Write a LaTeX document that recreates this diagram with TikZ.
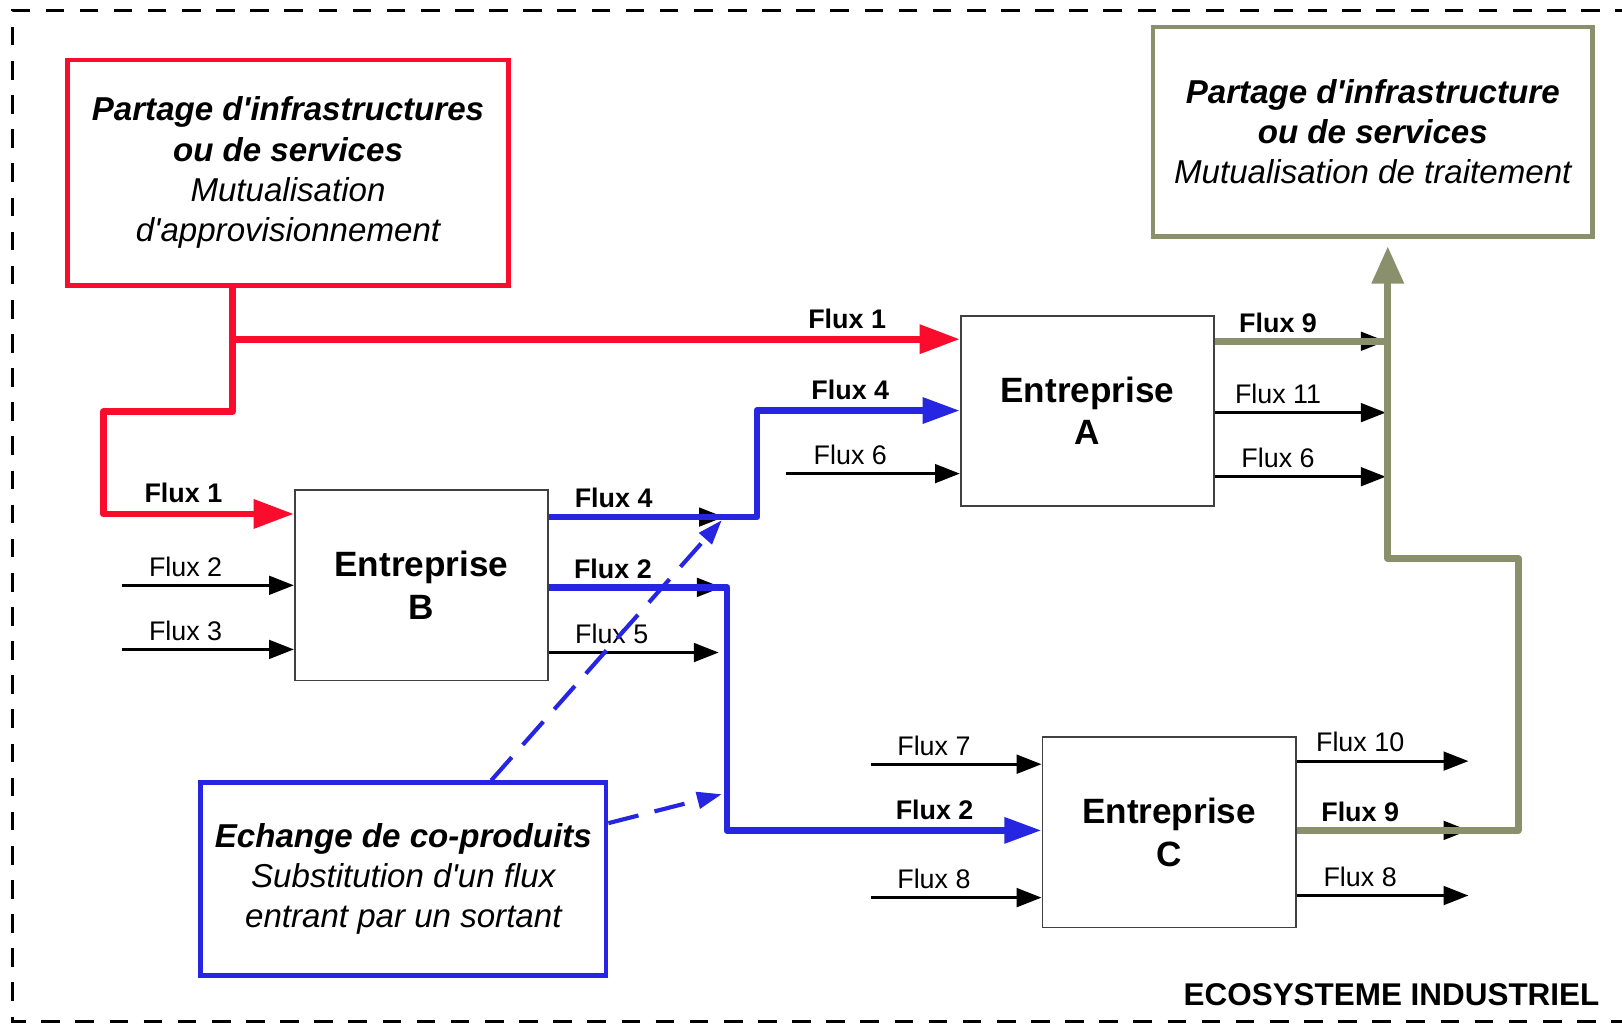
\documentclass[tikz,border=0pt]{standalone}
\usepackage{fontspec}
\setmainfont{Liberation Sans}[Ligatures=TeXOff]
\usepackage{tikz}
\usetikzlibrary{arrows.meta}
\definecolor{flowred}{RGB}{250,12,44}
\definecolor{flowblue}{RGB}{38,38,226}
\definecolor{flowgreen}{RGB}{138,144,108}
\tikzset{x=0.5pt, y=-0.5pt,
    ecoframe/.style={line width=1.5pt, dash pattern=on 9pt off 7.5pt},
    firm/.style={draw=black!75, line width=0.8pt, minimum width=122.5pt, minimum height=92pt,
        inner sep=0pt, align=center, font=\fontsize{17}{20.5}\selectfont\bfseries},
    theme/.style={draw=#1, line width=2.3pt, inner sep=0pt, align=center,
        font=\fontsize{16}{19.5}\selectfont\itshape},
    flux/.style={line width=1.4pt, -{Triangle[length=12pt,width=9pt]}},
    lbl/.style={above=3.6pt, inner sep=0pt, pos=.37, font=\fontsize{13}{15}\selectfont},
    boldlbl/.style={lbl, font=\fontsize{13}{15}\selectfont\bfseries},
    redflow/.style={draw=flowred, line width=3.3pt, line join=round, -{Triangle[length=19.5pt,width=13.5pt]}},
    blueflow/.style={draw=flowblue, line width=3.3pt, line join=round, -{Triangle[length=18pt,width=12pt]}},
    greenflow/.style={draw=flowgreen, line width=3.3pt, line join=round, -{Triangle[length=18pt,width=15pt]}},
    coupling/.style={draw=flowblue, line width=2pt, dash pattern=on 15pt off 8pt,
        -{Triangle[length=12pt,width=8pt]}}}

\begin{document}
\begin{tikzpicture}
    \useasboundingbox (0,0) rectangle (1568.5,990);
    \draw[ecoframe] (1580,10) -- (12,10) -- (12,988) -- (1580,988);

    \node[firm] (B) at (407.5,566) {Entreprise\\B};
    \node[firm] (A) at (1051.5,397.5) {Entreprise\\A};
    \node[firm] (C) at (1130.5,805) {Entreprise\\C};

    \node[theme=flowred, minimum width=213.5pt, minimum height=109pt] (appro) at (278.5,167)
        {\textbf{Partage d'infrastructures}\\\textbf{ou de services}\\Mutualisation\\d'approvisionnement};
    \node[theme=flowgreen, minimum width=212.5pt, minimum height=101.5pt] (traitement) at (1327.5,127.5)
        {\textbf{Partage d'infrastructure}\\\textbf{ou de services}\\Mutualisation de traitement};
    \node[theme=flowblue, minimum width=196pt, minimum height=93pt] (echange) at (390,850)
        {\textbf{Echange de co-produits}\\Substitution d'un flux\\entrant par un sortant};
    \node[anchor=east, inner sep=0pt, font=\fontsize{15.2}{18}\selectfont\bfseries] (eco) at (1547,962)
        {ECOSYSTEME INDUSTRIEL};

    \coordinate (in2B) at (118,566);
    \coordinate (in3B) at (118,628);
    \coordinate (out4B) at (700,500);
    \coordinate (out2B) at (698,568);
    \coordinate (out5B) at (695,631);
    \coordinate (in6A) at (760,458);
    \coordinate (out9A) at (1340,330);
    \coordinate (out11A) at (1340,399);
    \coordinate (out6A) at (1340,461);
    \coordinate (in7C) at (842,739);
    \coordinate (in8C) at (842,868);
    \coordinate (out10C) at (1420,736);
    \coordinate (out9C) at (1420,803);
    \coordinate (out8C) at (1420,866);

    \draw[flux] (in2B) -- node[lbl]{Flux 2} (in2B -| B.west);
    \draw[flux] (in3B) -- node[lbl]{Flux 3} (in3B -| B.west);
    \draw[flux] (B.east |- out4B) -- node[boldlbl]{Flux 4} (out4B);
    \draw[flux] (B.east |- out2B) -- node[boldlbl]{Flux 2} (out2B);
    \draw[flux] (B.east |- out5B) -- node[lbl]{Flux 5} (out5B);
    \draw[flux] (in6A) -- node[lbl]{Flux 6} (in6A -| A.west);
    \draw[flux] (A.east |- out9A) -- node[boldlbl]{Flux 9} (out9A);
    \draw[flux] (A.east |- out11A) -- node[lbl]{Flux 11} (out11A);
    \draw[flux] (A.east |- out6A) -- node[lbl]{Flux 6} (out6A);
    \draw[flux] (in7C) -- node[lbl]{Flux 7} (in7C -| C.west);
    \draw[flux] (in8C) -- node[lbl]{Flux 8} (in8C -| C.west);
    \draw[flux] (C.east |- out10C) -- node[lbl]{Flux 10} (out10C);
    \draw[flux] (C.east |- out9C) -- node[boldlbl]{Flux 9} (out9C);
    \draw[flux] (C.east |- out8C) -- node[lbl]{Flux 8} (out8C);

    \coordinate (r1) at (225,328);
    \coordinate (r2) at (225,398);
    \coordinate (r3) at (100,398);
    \coordinate (r4) at (100,497);
    \draw[redflow] (appro.south -| r1) -- (r1) -- node[boldlbl, pos=.845]{Flux 1} (r1 -| A.west);
    \draw[redflow] (r1) -- (r2) -- (r3) -- (r4) -- node[boldlbl, pos=.42]{Flux 1} (r4 -| B.west);

    \coordinate (b1) at (732,500);
    \coordinate (b2) at (732,397);
    \coordinate (b3) at (703,568);
    \coordinate (b4) at (703,803);
    \draw[blueflow] (B.east |- b1) -- (b1) -- (b2) -- node[boldlbl, pos=.46]{Flux 4} (b2 -| A.west);
    \draw[blueflow] (B.east |- b3) -- (b3) -- (b4) -- node[boldlbl, pos=.66]{Flux 2} (b4 -| C.west);

    \coordinate (g1) at (1468,803);
    \coordinate (g2) at (1468,540);
    \coordinate (g3) at (1342,540);
    \coordinate (g4) at (1342,330);
    \draw[greenflow, shorten >=3.5pt] (C.east |- g1) -- (g1) -- (g2) -- (g3) -- (traitement.south -| g3);
    \draw[greenflow, -] (A.east |- g4) -- (g4);

    \coordinate (e1) at (475,757);
    \coordinate (e2) at (586,796);
    \coordinate (d1) at (698,503);
    \coordinate (d2) at (698,768);
    \draw[coupling] (echange.north -| e1) -- (d1);
    \draw[coupling] (echange.east |- e2) -- (d2);
\end{tikzpicture}
\end{document}
